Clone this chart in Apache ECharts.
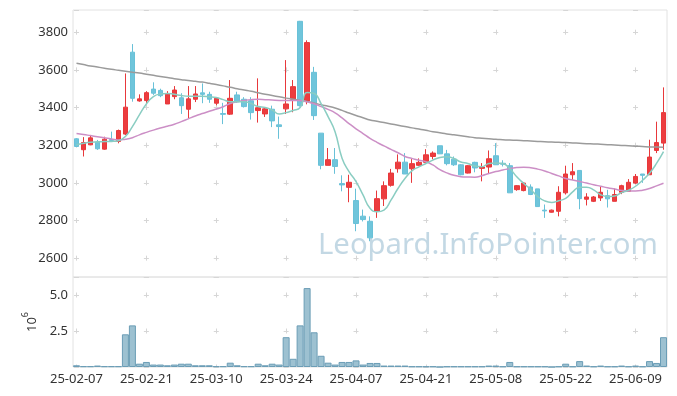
<!DOCTYPE html>
<html><head><meta charset="utf-8">
<script src="https://cdn.jsdelivr.net/npm/echarts@6/dist/echarts.min.js"></script>
<style>html,body{margin:0;padding:0;background:#fff}#c{width:677px;height:396px}</style>
</head><body><div id="c"></div>
<script>
const dates = ['25-02-07','25-02-10','25-02-11','25-02-12','25-02-13','25-02-14','25-02-17','25-02-18','25-02-19','25-02-20','25-02-21','25-02-24','25-02-25','25-02-26','25-02-27','25-02-28','25-03-04','25-03-05','25-03-06','25-03-07','25-03-10','25-03-11','25-03-12','25-03-13','25-03-14','25-03-17','25-03-18','25-03-19','25-03-20','25-03-21','25-03-24','25-03-25','25-03-26','25-03-27','25-03-28','25-03-31','25-04-01','25-04-02','25-04-03','25-04-04','25-04-07','25-04-08','25-04-09','25-04-10','25-04-11','25-04-14','25-04-15','25-04-16','25-04-17','25-04-18','25-04-21','25-04-22','25-04-23','25-04-24','25-04-25','25-04-28','25-04-29','25-04-30','25-05-02','25-05-07','25-05-08','25-05-09','25-05-12','25-05-13','25-05-14','25-05-15','25-05-16','25-05-19','25-05-20','25-05-21','25-05-22','25-05-23','25-05-26','25-05-27','25-05-28','25-05-29','25-05-30','25-06-02','25-06-04','25-06-05','25-06-09','25-06-10','25-06-11','25-06-12','25-06-13'];

const openP  = [3234,3176,3202,3216,3179,3230,3220,3259,3694,3435,3437,3498,3491,3419,3458,3452,3391,3444,3478,3470,3423,3368,3365,3467,3444,3436,3384,3366,3391,3308,3393,3444,3858,3435,3587,3264,3093,3123,2996,2976,2906,2823,2796,2849,2915,2987,3075,3110,3075,3093,3109,3140,3197,3154,3126,3096,3052,3109,3077,3084,3144,3104,3091,2964,2959,2978,2968,2855,2844,2849,2947,3043,3066,2913,2902,2920,2932,2902,2950,2955,2999,3047,3043,3172,3211];
const closeP = [3193,3214,3239,3181,3232,3225,3278,3402,3449,3446,3479,3476,3463,3472,3493,3410,3446,3472,3470,3444,3449,3364,3449,3431,3405,3373,3399,3393,3329,3299,3419,3511,3410,3745,3357,3093,3123,3087,2989,3003,2784,2805,2708,2916,2985,3052,3110,3047,3102,3109,3149,3158,3154,3102,3096,3043,3091,3079,3084,3128,3096,3099,2947,2985,2999,2938,2874,2851,2855,2950,3047,3059,2916,2925,2925,2950,2915,2938,2985,3003,3034,3040,3137,3214,3373];
const lowP   = [3190,3140,3200,3175,3176,3220,3210,3254,3431,3431,3419,3467,3455,3419,3444,3366,3343,3429,3423,3425,3412,3312,3361,3425,3400,3336,3320,3350,3296,3234,3366,3375,3405,3417,3334,3072,3093,3048,2955,2897,2743,2795,2690,2814,2877,2980,3054,3047,3000,3090,3102,3125,3154,3093,3090,3040,3050,3056,3008,3047,3096,3087,2947,2958,2955,2935,2874,2814,2842,2822,2938,3016,2860,2880,2898,2904,2869,2902,2940,2955,2995,3000,3043,3158,3176];
const highP  = [3238,3243,3250,3228,3245,3272,3283,3581,3737,3470,3487,3534,3500,3487,3514,3476,3514,3514,3528,3484,3449,3425,3546,3484,3455,3455,3555,3400,3410,3352,3652,3546,3860,3757,3616,3264,3185,3185,3040,3043,2969,2858,2822,2959,3008,3074,3151,3158,3126,3130,3179,3167,3197,3175,3140,3100,3094,3112,3105,3172,3211,3120,3105,2988,3004,2992,2968,2885,2858,2982,3091,3105,3066,2945,2930,2981,2963,2970,2990,3020,3047,3047,3229,3325,3507];

const volume = [0.12,0.05,0.05,0.1,0.05,0.05,0.05,2.27,2.89,0.23,0.35,0.17,0.17,0.12,0.17,0.23,0.23,0.12,0.12,0.12,0.05,0.05,0.3,0.12,0.05,0.05,0.23,0.12,0.23,0.17,2.07,0.57,2.89,5.48,2.41,0.78,0.3,0.17,0.35,0.35,0.46,0.17,0.28,0.28,0.1,0.1,0.1,0.1,0.04,0.04,0.04,0.04,0,0.04,0.04,0.04,0.04,0.04,0.04,0.1,0.1,0.04,0.35,0.04,0.04,0.04,0.04,0.04,0,0.04,0.23,0.04,0.41,0.1,0.04,0.1,0.04,0.04,0.1,0.04,0.1,0.04,0.41,0.28,2.07];

const maShort = [3202,3210,3216,3218,3219,3220,3224,3246,3299,3361,3419,3458,3472,3475,3470,3464,3460,3460,3460,3457,3453,3442,3431,3431,3431,3421,3405,3400,3387,3366,3373,3384,3400,3480,3475,3421,3352,3272,3131,3060,3007,2936,2865,2846,2855,2908,2970,3023,3064,3085,3103,3121,3135,3139,3129,3111,3103,3089,3085,3103,3106,3103,3076,3032,2997,2965,2927,2904,2896,2905,2917,2952,2977,2977,2963,2937,2927,2930,2948,2961,2982,3014,3051,3103,3166];
const maMid = [3262,3257,3251,3245,3239,3233,3228,3232,3240,3255,3268,3280,3291,3301,3311,3325,3340,3355,3368,3380,3392,3404,3421,3430,3437,3442,3444,3442,3440,3438,3437,3437,3437,3430,3420,3405,3390,3372,3345,3315,3287,3262,3236,3215,3196,3178,3160,3140,3130,3120,3112,3095,3070,3053,3040,3033,3031,3030,3038,3050,3060,3068,3076,3081,3083,3080,3073,3063,3050,3037,3023,3015,3007,2999,2990,2982,2974,2967,2960,2957,2957,2961,2970,2984,2998];
const maLong = [3635,3628,3621,3615,3609,3603,3598,3593,3588,3583,3577,3571,3565,3559,3553,3548,3543,3539,3535,3529,3522,3515,3508,3500,3493,3486,3478,3471,3464,3457,3450,3444,3438,3432,3424,3415,3407,3398,3385,3371,3358,3346,3334,3327,3320,3313,3306,3299,3292,3286,3279,3272,3266,3260,3255,3250,3245,3240,3237,3234,3231,3229,3227,3226,3224,3222,3220,3218,3217,3215,3214,3212,3210,3208,3207,3205,3203,3201,3199,3197,3195,3193,3191,3190,3189];

const priceTicks = [2600,2800,3000,3200,3400,3600,3800];
const volTicks = [2.5,5.0];
const watermark = 'Leopard.InfoPointer.com';

const ohlc = dates.map((d,i)=>[openP[i],closeP[i],lowP[i],highP[i]]);
const FONT = 'Noto Sans';
const crossColor = '#d6d6d6';

const chart = echarts.init(document.getElementById('c'));
chart.setOption({
  animation:false,
  backgroundColor:'#ffffff',
  textStyle:{fontFamily:FONT},
  graphic:[{type:'text', left:318, top:231, z:1, silent:true,
    style:{text:watermark, font:'29.3px "Noto Sans"', fill:'rgba(140,180,203,0.52)'}}],
  grid:[
    {left:73,right:10,top:10,height:267,show:true,borderColor:'#e2e2e2',borderWidth:1},
    {left:73,right:10,top:277,height:90,show:true,borderColor:'#e2e2e2',borderWidth:1}
  ],
  xAxis:[
    {type:'category',gridIndex:0,data:dates,boundaryGap:true,
     axisLine:{show:false},axisTick:{show:false},axisLabel:{show:false},
     splitLine:{show:true,interval:9,alignWithLabel:true,lineStyle:{color:crossColor,width:1,type:[5,32.66],dashOffset:17.96}}},
    {type:'category',gridIndex:1,data:dates,boundaryGap:true,
     axisLine:{show:false},axisTick:{show:false},
     axisLabel:{interval:9,fontSize:13,color:'#333',margin:6,fontFamily:FONT},
     splitLine:{show:true,interval:9,alignWithLabel:true,lineStyle:{color:crossColor,width:1,type:[5,31],dashOffset:20.5}}}
  ],
  yAxis:[
    {type:'value',gridIndex:0,min:2500,max:3918,splitNumber:7,scale:true,
     axisLine:{show:false},axisTick:{show:false},
     axisLabel:{fontSize:13,color:'#333',margin:5,fontFamily:FONT,
       formatter:v=>priceTicks.includes(Math.round(v))?String(Math.round(v)):''},
     splitLine:{show:true,lineStyle:{color:crossColor,width:1,type:[5,64.88],dashOffset:68.88}}},
    {type:'value',gridIndex:1,min:0,max:6.25,interval:2.5,
     name:'{b|10}{s|6}',nameLocation:'middle',nameRotate:90,nameGap:26,
     nameTextStyle:{color:'#333',rich:{b:{fontSize:13,fontFamily:FONT,color:'#333',lineHeight:18,verticalAlign:'bottom'},s:{fontSize:9,fontFamily:FONT,color:'#333',lineHeight:18,verticalAlign:'top'}}},
     axisLine:{show:false},axisTick:{show:false},
     axisLabel:{fontSize:13,color:'#333',margin:5,fontFamily:FONT,
       formatter:v=>volTicks.some(t=>Math.abs(t-v)<1e-6)?v.toFixed(1):''},
     splitLine:{show:true,lineStyle:{color:crossColor,width:1,type:[5,64.88],dashOffset:68.88}}}
  ],
  series:[
    {type:'candlestick',xAxisIndex:0,yAxisIndex:0,data:ohlc,barWidth:5,
     itemStyle:{color:'#ec3d3f',color0:'#6fc5db',borderColor:'#e8383b',borderColor0:'#69c1d8',borderWidth:1}},
    {type:'line',xAxisIndex:0,yAxisIndex:0,data:maLong,smooth:true,showSymbol:false,lineStyle:{width:1.5,color:'#9b9b9b'}},
    {type:'line',xAxisIndex:0,yAxisIndex:0,data:maMid,smooth:true,showSymbol:false,lineStyle:{width:1.5,color:'#cc8fc6'}},
    {type:'line',xAxisIndex:0,yAxisIndex:0,data:maShort,smooth:true,showSymbol:false,lineStyle:{width:1.5,color:'#8acdc2'}},
    {type:'bar',xAxisIndex:1,yAxisIndex:1,data:volume,barWidth:'100%',barCategoryGap:'0%',
     itemStyle:{color:'#9dc1d1',borderColor:'#6b9db6',borderWidth:1}}
  ]
});
</script></body></html>
